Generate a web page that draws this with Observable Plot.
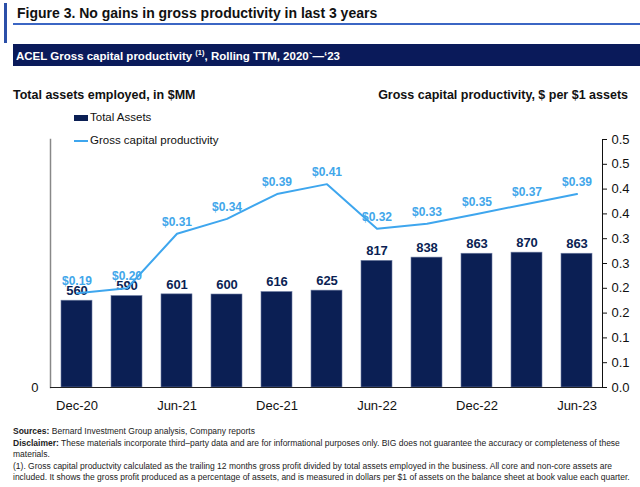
<!DOCTYPE html>
<html>
<head>
<meta charset="utf-8">
<script src="https://cdn.jsdelivr.net/npm/d3@7"></script>
<script src="https://cdn.jsdelivr.net/npm/@observablehq/plot@0.6"></script>
<style>
  html, body { margin: 0; padding: 0; background: #fff; }
  #wrap { position: relative; width: 640px; height: 487px; overflow: hidden; font-family: "Liberation Sans", Arial, sans-serif; color: #111; }
  .abs { position: absolute; white-space: nowrap; }
  #accent { left: 4px; top: 3px; width: 3px; height: 40px; background: #2b4fa8; }
  #title { left: 17px; top: 5px; font-size: 14px; font-weight: bold; color: #111; }
  #rule { left: 13px; top: 23px; width: 627px; height: 2px; background: #3b66c4; }
  #header { left: 13px; top: 44px; width: 627px; height: 22px; background: #0a1a5a; color: #fff; font-weight: bold; font-size: 11.5px; line-height: 24px; padding-left: 3px; box-sizing: border-box; }
  #header sup { font-size: 7.5px; vertical-align: 5px; line-height: 0; }
  .axtitle { top: 88px; font-size: 12.5px; font-weight: bold; }
  #axl { left: 13px; }
  #axr { right: 12px; }
  #plot { left: 0; top: 105px; }
  .leg { font-size: 11.5px; color: #111; }
  .foot { left: 13px; font-size: 8.5px; color: #222; }
</style>
</head>
<body>
<div id="wrap">
  <div class="abs" id="accent"></div>
  <div class="abs" id="title">Figure 3. No gains in gross productivity in last 3 years</div>
  <div class="abs" id="rule"></div>
  <div class="abs" id="header">ACEL Gross capital productivity <sup>(1)</sup>, Rolling TTM, 2020`—‘23</div>
  <div class="abs axtitle" id="axl">Total assets employed, in $MM</div>
  <div class="abs axtitle" id="axr">Gross capital productivity, $ per $1 assets</div>
  <div class="abs" id="plot"></div>
  <div class="abs" style="left:74px;top:115px;width:14px;height:6px;background:#0b1f54;"></div>
  <div class="abs leg" style="left:90px;top:111px;">Total Assets</div>
  <div class="abs" style="left:74px;top:140px;width:14px;height:2px;background:#3ea6ee;"></div>
  <div class="abs leg" style="left:90px;top:134px;">Gross capital productivity</div>
  <div class="abs foot" style="top:426px;"><b>Sources:</b> Bernard Investment Group analysis, Company reports</div>
  <div class="abs foot" style="top:438px;"><b>Disclaimer:</b> These materials incorporate third–party data and are for informational purposes only. BIG does not guarantee the accuracy or completeness of these</div>
  <div class="abs foot" style="top:449px;">materials.</div>
  <div class="abs foot" style="top:461px;">(1). Gross capital productvity calculated as the trailing 12 months gross profit divided by total assets employed in the business. All core and non-core assets are</div>
  <div class="abs foot" style="top:472px;">included. It shows the gross profit produced as a percentage of assets, and is measured in dollars per $1 of assets on the balance sheet at book value each quarter.</div>
</div>
<script>
const quarters = ["Dec-20","Mar-21","Jun-21","Sep-21","Dec-21","Mar-22","Jun-22","Sep-22","Dec-22","Mar-23","Jun-23"];
const totalAssets = [560, 590, 601, 600, 616, 625, 817, 838, 863, 870, 863];
const productivity = [0.19, 0.20, 0.31, 0.34, 0.39, 0.41, 0.32, 0.33, 0.35, 0.37, 0.39];
const xTickLabels = ["Dec-20","Jun-21","Dec-21","Jun-22","Dec-22","Jun-23"];
const rightTicks = [0, 0.05, 0.10, 0.15, 0.20, 0.25, 0.30, 0.35, 0.40, 0.45, 0.50];
const rightTickLabels = ["0.0","0.1","0.1","0.2","0.2","0.3","0.3","0.4","0.4","0.5","0.5"];
const leftMax = 1600;
const rightMax = 0.5;
const k = leftMax / rightMax;

const rows = quarters.map((q, i) => ({q, assets: totalAssets[i], prod: productivity[i], prodY: productivity[i] * k}));
const rightMap = new Map(rightTicks.map((t, i) => [t * k, rightTickLabels[i]]));

const chart = Plot.plot({
  width: 640,
  height: 315,
  marginTop: 34,
  marginBottom: 33,
  marginLeft: 50,
  marginRight: 38,
  style: {fontFamily: '"Liberation Sans", Arial, sans-serif', background: "transparent"},
  x: {domain: quarters, paddingInner: 0.38, paddingOuter: 0.19, axis: null},
  y: {domain: [0, leftMax], axis: null},
  marks: [
    Plot.barY(rows, {x: "q", y: "assets", fill: "#0b1f54", stroke: "#6f7ea3", strokeWidth: 0.6}),
    Plot.frame({anchor: "left", stroke: "#888", strokeWidth: 1.5}),
    Plot.frame({anchor: "right", stroke: "#111", strokeWidth: 1}),
    Plot.ruleY([0], {stroke: "#222", strokeWidth: 1.2}),
    Plot.axisY([0], {anchor: "left", tickSize: 0, tickPadding: 12, fontSize: 13, tickFormat: d => "0", color: "#111", label: null}),
    Plot.axisY(rightTicks.map(t => t * k), {anchor: "right", tickSize: 4, tickPadding: 5, fontSize: 13, tickFormat: d => rightMap.get(d), color: "#111", label: null}),
    Plot.axisX(xTickLabels, {anchor: "bottom", tickSize: 0, tickPadding: 13, fontSize: 13, color: "#111", label: null}),
    Plot.text(rows, {x: "q", y: "assets", text: d => String(d.assets), dy: -10, fontSize: 13, fontWeight: "bold", fill: "#0b1f54"}),
    Plot.line(rows, {x: "q", y: "prodY", stroke: "#3ea6ee", strokeWidth: 2}),
    Plot.text(rows, {x: "q", y: "prodY", text: d => "$" + d.prod.toFixed(2), dy: -12, fontSize: 12, fontWeight: "bold", fill: "#41a6ea"})
  ]
});
document.getElementById("plot").appendChild(chart);
</script>
</body>
</html>
